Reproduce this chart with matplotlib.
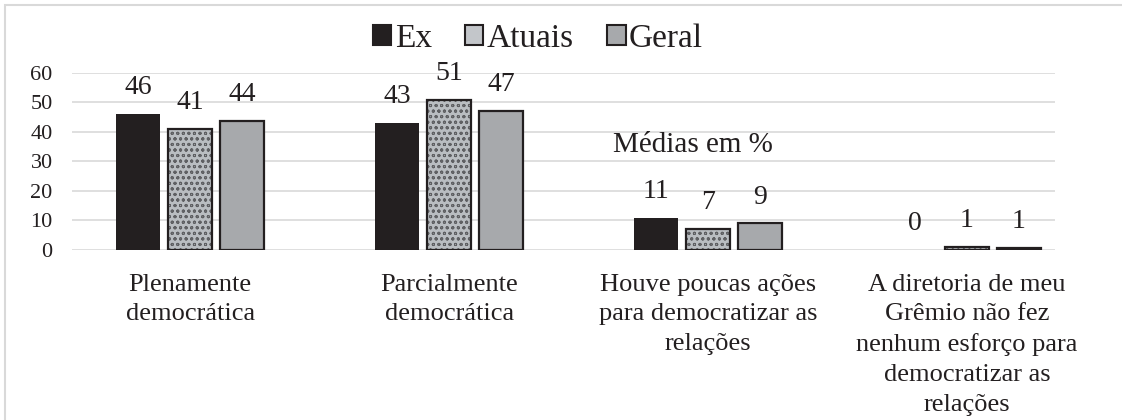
"""Médias em % — Ex / Atuais / Geral, barras agrupadas."""
import matplotlib
matplotlib.use("Agg")
import matplotlib.pyplot as plt
import numpy as np
from matplotlib.patches import Patch, Rectangle

categories = ["Plenamente\ndemocrática",
              "Parcialmente\ndemocrática",
              "Houve poucas ações\npara democratizar as\nrelações",
              "A diretoria de meu\nGrêmio não fez\nnenhum esforço para\ndemocratizar as\nrelações"]
series = ["Ex", "Atuais", "Geral"]
ex = [46, 43, 11, 0]
atuais = [41, 51, 7, 1.1]
geral = [43.6, 47, 9, 0.6]
yticks = [0, 10, 20, 30, 40, 50, 60]

INK = "#231f20"
GRID = "#d9d9d9"
plt.rcParams["font.family"] = ["Liberation Serif", "DejaVu Serif"]
plt.rcParams["hatch.linewidth"] = 0.7

fig = plt.figure(figsize=(11.22, 4.2), dpi=100)
ax = fig.add_axes([0.0642, 0.4048, 0.8761, 0.4214])

x = np.arange(len(categories))
w, step = 0.17, 0.2

# Ex: preto sólido (sem contorno: valor 0 não aparece)
b_ex = ax.bar(x - step, ex, w, color=INK, lw=0, zorder=3)
# Atuais: textura (hachura) + contorno preto por cima
ax.bar(x, atuais, w, color="#b9bdc1", edgecolor="#5f6063", hatch="ooo", lw=0, zorder=3)
b_at = ax.bar(x, atuais, w, facecolor="none", edgecolor=INK, lw=1.6, zorder=4)
# Geral: cinza
b_ge = ax.bar(x + step, geral, w, color="#a7a9ac", edgecolor=INK, lw=1.6, zorder=3)

for bars, vals in ((b_ex, ex), (b_at, atuais), (b_ge, geral)):
    for r, v in zip(bars, vals):
        ax.annotate(f"{v:.0f}", (r.get_x() + r.get_width() / 2, v),
                    xytext=(0, 10), textcoords="offset points",
                    ha="center", va="bottom", fontsize=20, color=INK)

ax.set_xlim(-0.456, 3.34)
ax.set_ylim(0, 60)
ax.set_yticks(yticks)
ax.set_xticks(x)
ax.set_xticklabels(categories, fontsize=19, color=INK, linespacing=1.45)
ax.tick_params(axis="y", length=0, pad=14, labelsize=16, labelcolor=INK)
ax.tick_params(axis="x", length=0, pad=17)
ax.grid(axis="y", color=GRID, lw=1.2, zorder=0)
ax.set_axisbelow(True)
for s in ax.spines.values():
    s.set_visible(False)

ax.text(0.632, 0.593, "Médias em %", transform=ax.transAxes,
        ha="center", va="center", fontsize=21, color=INK)

handles = [Patch(facecolor=INK, edgecolor=INK, lw=1.5, label="Ex"),
           Patch(facecolor="#c3c6ca", edgecolor=INK, lw=1.5, label="Atuais"),
           Patch(facecolor="#a7a9ac", edgecolor=INK, lw=1.5, label="Geral")]
fig.legend(handles=handles, loc="center", bbox_to_anchor=(0.4795, 0.908),
           ncol=3, frameon=False, fontsize=24, handlelength=0.55, handleheight=0.55,
           handletextpad=0.1, columnspacing=1.0, labelcolor=INK)

# moldura cinza-clara do gráfico
fig.patches.append(Rectangle((5 / 1122, -0.05), 1.1, 1 - 5 / 420 + 0.05,
                             transform=fig.transFigure, fill=False,
                             edgecolor=GRID, lw=1.5))

fig.savefig("out.png", dpi=100)
